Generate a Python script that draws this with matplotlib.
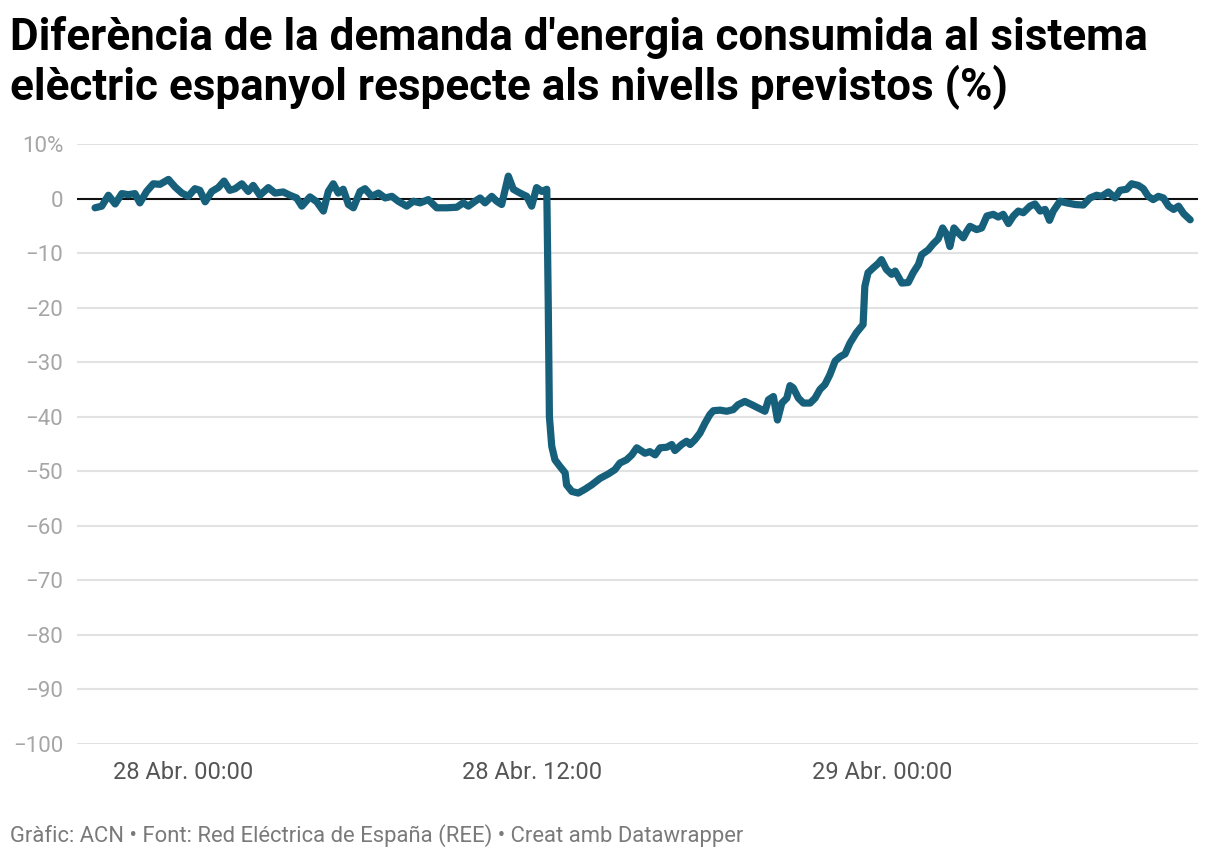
import numpy as np
import pandas as pd
import matplotlib
matplotlib.use("Agg")
import matplotlib.pyplot as plt
import matplotlib.dates as mdates

plt.rcParams['font.family'] = ['Roboto', 'DejaVu Sans']

# hours relative to 28 Apr 2025 00:00 and % difference vs forecast
hours = [-3.02, -2.79, -2.56, -2.33, -2.10, -1.88, -1.65, -1.48, -1.25, -1.02,
         -0.79, -0.50, -0.27, -0.04, 0.18, 0.41, 0.58, 0.76, 0.99, 1.21,
         1.41, 1.61, 1.79, 2.02, 2.24, 2.41, 2.64, 2.93, 3.16, 3.44,
         3.67, 3.90, 4.08, 4.36, 4.59, 4.82, 4.99, 5.16, 5.33, 5.50,
         5.68, 5.85, 6.08, 6.25, 6.48, 6.71, 6.94, 7.17, 7.39, 7.68,
         7.91, 8.14, 8.42, 8.71, 9.05, 9.40, 9.62, 9.80, 10.03, 10.20,
         10.37, 10.60, 10.77, 10.94, 11.17, 11.34, 11.57, 11.80, 11.97, 12.14,
         12.32, 12.49, 12.54, 12.58, 12.66, 12.77, 12.94, 13.12, 13.17, 13.35,
         13.57, 13.80, 14.03, 14.32, 14.60, 14.83, 15.00, 15.23, 15.41, 15.58,
         15.86, 16.03, 16.21, 16.38, 16.61, 16.78, 16.89, 17.12, 17.29, 17.41,
         17.58, 17.75, 17.92, 18.09, 18.21, 18.44, 18.67, 18.89, 19.06, 19.29,
         19.53, 19.75, 19.98, 20.10, 20.27, 20.41, 20.56, 20.73, 20.84, 20.95,
         21.13, 21.30, 21.53, 21.70, 21.87, 22.04, 22.21, 22.39, 22.56, 22.73,
         22.90, 23.12, 23.35, 23.41, 23.52, 23.70, 23.87, 23.98, 24.15, 24.33,
         24.45, 24.68, 24.90, 25.07, 25.25, 25.36, 25.59, 25.76, 25.93, 26.08,
         26.22, 26.33, 26.47, 26.62, 26.79, 26.91, 27.02, 27.25, 27.42, 27.60,
         27.82, 27.99, 28.16, 28.34, 28.51, 28.68, 28.85, 29.08, 29.25, 29.43,
         29.60, 29.75, 29.88, 30.11, 30.34, 30.63, 30.91, 31.14, 31.37, 31.54,
         31.77, 32.00, 32.17, 32.40, 32.57, 32.80, 32.97, 33.14, 33.31, 33.49,
         33.66, 33.84, 34.01, 34.18, 34.36, 34.58]
diff = [-1.7, -1.4, 0.6, -1.0, 0.9, 0.7, 0.9, -0.8, 1.3, 2.7,
        2.6, 3.5, 2.1, 1.0, 0.4, 1.8, 1.5, -0.6, 1.3, 2.0,
        3.2, 1.5, 1.8, 2.7, 1.3, 2.4, 0.6, 2.0, 1.0, 1.2,
        0.6, 0.1, -1.4, 0.3, -0.6, -2.3, 1.3, 2.7, 1.0, 1.7,
        -1.1, -1.7, 1.3, 1.8, 0.4, 1.0, 0.1, 0.4, -0.5, -1.4,
        -0.5, -0.8, -0.2, -1.7, -1.7, -1.6, -0.8, -1.4, -0.5, 0.1,
        -0.8, 0.4, -0.5, -1.1, 4.1, 1.7, 1.0, 0.4, -1.4, 2.0,
        1.3, 1.7, -19.1, -40.0, -45.4, -47.9, -49.1, -50.3, -52.5, -53.7,
        -54.0, -53.3, -52.5, -51.3, -50.5, -49.7, -48.5, -47.9, -47.0, -45.7,
        -46.7, -46.4, -47.0, -45.7, -45.6, -45.1, -46.2, -45.1, -44.5, -45.1,
        -44.2, -43.0, -41.2, -39.6, -38.9, -38.8, -39.0, -38.7, -37.8, -37.2,
        -37.8, -38.4, -39.0, -36.9, -36.3, -40.6, -37.5, -36.6, -34.3, -34.7,
        -36.6, -37.5, -37.5, -36.6, -35.0, -34.1, -32.3, -29.8, -29.0, -28.5,
        -26.5, -24.6, -23.1, -16.1, -13.6, -12.7, -11.9, -11.2, -13.0, -13.9,
        -13.3, -15.5, -15.4, -13.6, -12.1, -10.3, -9.4, -8.3, -7.4, -5.4,
        -6.6, -8.8, -5.4, -6.3, -7.2, -6.0, -5.1, -5.7, -5.4, -3.2,
        -2.9, -3.4, -2.9, -4.6, -3.2, -2.3, -2.6, -1.4, -1.0, -2.3,
        -2.0, -4.0, -2.3, -0.5, -0.8, -1.1, -1.2, 0.1, 0.6, 0.4,
        1.2, 0.1, 1.5, 1.7, 2.7, 2.4, 1.8, 0.4, -0.2, 0.4,
        0.1, -1.4, -2.0, -1.4, -2.8, -3.9]

y_ticks = [10, 0, -10, -20, -30, -40, -50, -60, -70, -80, -90, -100]
y_labels = ['10%', '0', '\u221210', '\u221220', '\u221230', '\u221240', '\u221250',
            '\u221260', '\u221270', '\u221280', '\u221290', '\u2212100']
x_ticks = ['2025-04-28 00:00', '2025-04-28 12:00', '2025-04-29 00:00']
x_labels = ['28 Abr. 00:00', '28 Abr. 12:00', '29 Abr. 00:00']

t0 = pd.Timestamp('2025-04-28 00:00')
times = t0 + pd.to_timedelta(hours, unit='h')

fig = plt.figure(figsize=(12.2, 8.6), dpi=100)
ax = fig.add_axes([0.0631, 0.1349, 0.9189, 0.6977])

for yt in y_ticks:
    if yt == 0:
        continue
    ax.axhline(yt, color='#e2e2e2', lw=1.5, zorder=1)
ax.axhline(0, color='#111111', lw=1.5, zorder=2)

ax.plot(times, diff, color='#17607b', lw=5.2, solid_joinstyle='round',
        solid_capstyle='round', zorder=3)

ax.set_ylim(-100, 10)
ax.set_xlim(t0 + pd.Timedelta(hours=-3.64), t0 + pd.Timedelta(hours=34.85))
ax.set_yticks(y_ticks)
ax.set_yticklabels(y_labels, fontsize=16, color='#a6a6a6')
ax.set_xticks([pd.Timestamp(x) for x in x_ticks])
ax.set_xticklabels(x_labels, fontsize=17, color='#555555')
ax.tick_params(axis='both', length=0)
ax.tick_params(axis='y', pad=10)
ax.tick_params(axis='x', pad=12)
for s in ax.spines.values():
    s.set_visible(False)

fig.text(0.008, 0.981, "Difer\u00e8ncia de la demanda d'energia consumida al sistema\n"
         "el\u00e8ctric espanyol respecte als nivells previstos (%)",
         fontsize=31.7, fontweight='bold', color='#000000', va='top', ha='left',
         linespacing=1.17)
fig.text(0.008, 0.028, "Gr\u00e0fic: ACN \u2022 Font: Red El\u00e9ctrica de Espa\u00f1a (REE) \u2022 Creat amb Datawrapper",
         fontsize=15.8, color='#7a7a7a', va='center', ha='left')

fig.savefig('out.png', dpi=100, facecolor='white')
